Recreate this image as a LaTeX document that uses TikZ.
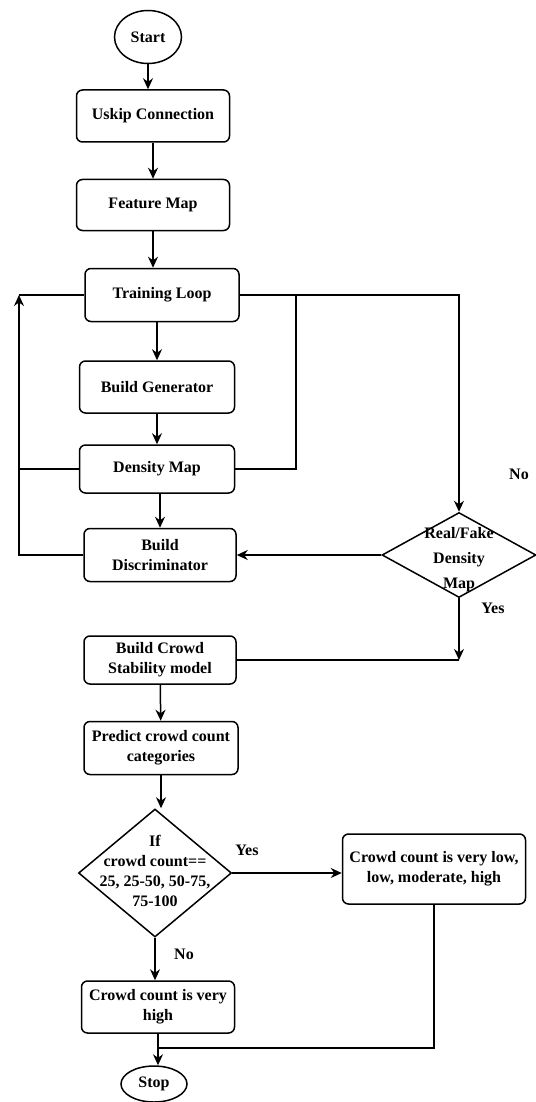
\documentclass[tikz,border=0pt]{standalone}
\usepackage{fontspec}
\setmainfont{Liberation Serif}
\usetikzlibrary{shapes.geometric, arrows.meta}

\begin{document}
\begin{tikzpicture}[x=1pt, y=-1pt, >={Stealth[length=11pt, width=10pt]}, line width=1.5pt,
    proc/.style={draw, rounded corners=6pt, align=center, inner sep=2pt,
        font=\bfseries\fontsize{16}{20}\selectfont, minimum width=153pt, minimum height=52pt},
    term/.style={draw, ellipse, inner sep=0pt, font=\bfseries\fontsize{16}{20}\selectfont},
    decision/.style={draw, diamond, inner sep=0pt},
    txt/.style={align=center, inner sep=0pt, font=\bfseries\fontsize{16}{20}\selectfont}]

    % Marco de la figura
    \useasboundingbox (0,0) rectangle (535,1102);

    % Parte superior: entrada y bucle de entrenamiento
    \node[term, minimum width=67pt, minimum height=53pt] (start) at (148,37) {Start};
    \node[proc] (uskip) at (153,116) {Uskip Connection};
    \node[proc, minimum height=51pt] (feature) at (153,205) {Feature Map};
    \node[proc, minimum width=154pt, minimum height=53pt] (train) at (162,295) {Training Loop};
    \node[proc, minimum width=155pt] (gen) at (157,387) {Build Generator};
    \node[proc, minimum width=155pt, minimum height=48pt] (dens) at (157,469) {Density Map};
    \node[proc, minimum width=152pt, minimum height=53pt] (disc) at (160,555) {Build\\Discriminator};

    % Decision real/falso
    \node[decision, minimum width=154pt, minimum height=85pt] (realfake) at (459,555) {};
    \node[txt, font=\bfseries\fontsize{16}{25}\selectfont] (realfaketxt) at ([yshift=-5pt]realfake) {Real/Fake\\Density\\Map};

    % Parte inferior: modelo y categorias
    \node[proc, minimum width=152pt, minimum height=48pt] (crowd) at (160,660) {Build Crowd\\Stability model};
    \node[proc, minimum width=154pt, minimum height=53pt] (predict) at (161,748) {Predict crowd count\\categories};
    \node[decision, minimum width=153pt, minimum height=128pt] (ifcount) at (155,873) {};
    \node[txt] (ifcounttxt) at ([yshift=2pt]ifcount) {If\\crowd count==\\25, 25-50, 50-75,\\75-100};
    \node[proc, minimum width=183pt, minimum height=70pt] (lowhigh) at (434,869) {Crowd count is very low,\\low, moderate, high};
    \node[proc] (vhigh) at (158,1007) {Crowd count is very\\high};
    \node[term, minimum width=66pt, minimum height=36pt] (stop) at (154,1084) {Stop};

    % Etiquetas Yes / No
    \node[txt] (no1) at (519,474) {No};
    \node[txt] (yes1) at (493,608) {Yes};
    \node[txt] (yes2) at (247,850) {Yes};
    \node[txt] (no2) at (184,954) {No};

    % Puntos de union
    \coordinate (ljoin) at (19,295);
    \coordinate (tjoin) at (296,295);
    \coordinate (sjoin) at (157,1048);

    % Flujo principal
    \draw[->] (start.south) -- (start.south |- uskip.north);
    \draw[->] (uskip) -- (feature);
    \draw[->] (feature.south) -- (feature.south |- train.north);
    \draw[->] (gen.north |- train.south) -- (gen.north);
    \draw[->] (gen) -- (dens);
    \draw[->] (dens.south -| disc) -- (disc.north);

    % Lazos de realimentacion
    \draw[->] (train.east) -| (realfake.north);
    \draw (dens.east) -| (tjoin);
    \draw[->] (disc.west) -| (ljoin);
    \draw (ljoin) -- (train.west);
    \draw (dens.west) -- (dens.west -| ljoin);
    \draw[->] (realfake.west) -- (disc.east);
    \draw[->] (realfake.south) -- (realfake.south |- crowd.east);
    \draw (crowd.east) -- (realfake.south |- crowd.east);

    % Clasificacion y fin
    \draw[->] (crowd) -- (predict);
    \draw[->] (predict.south) -- (predict.south |- ifcount.north);
    \draw[->] (ifcount.east) -- (ifcount.east -| lowhigh.west);
    \draw[->] (ifcount.south) -- (ifcount.south |- vhigh.north);
    \draw[->] (vhigh.south) -- (vhigh.south |- stop.north);
    \draw (lowhigh.south) |- (sjoin);
\end{tikzpicture}
\end{document}
